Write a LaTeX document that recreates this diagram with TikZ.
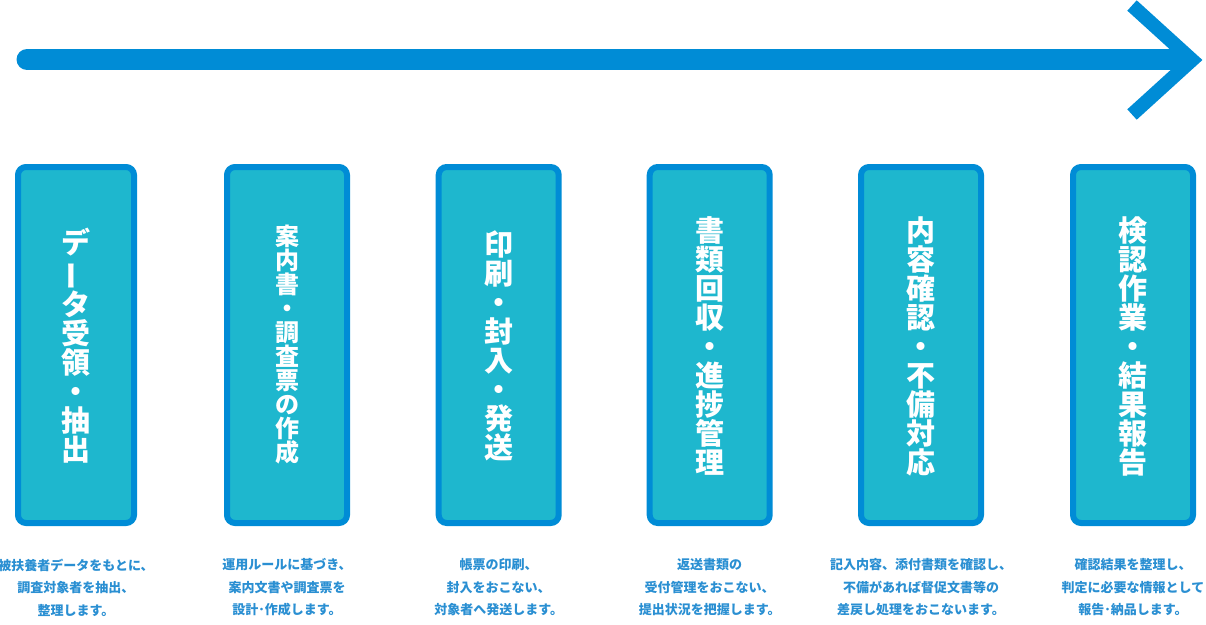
\documentclass[tikz,border=0pt]{standalone}
\usepackage{fontspec}
\usepackage{graphicx}
\newfontfamily\jp{Noto Sans CJK JP}
\definecolor{arrowblue}{HTML}{008CD6}
\definecolor{boxfill}{HTML}{1EB7CE}
\definecolor{textblue}{HTML}{2A8FD2}
\newcommand\vchoon{\rotatebox[origin=c]{90}{ー}}
\tikzset{
  stepbox/.style={draw=arrowblue, fill=boxfill, line width=6pt, rounded corners=8pt,
    minimum width=120pt, minimum height=356pt, inner sep=0pt},
  title/.style={text=white, align=center, inner sep=0pt,
    font=\jp\bfseries\fontsize{29}{29}\selectfont},
  titlesmall/.style={title, font=\jp\bfseries\fontsize{24}{24}\selectfont},
  desc/.style={text=textblue, align=center, inner sep=0pt,
    font=\jp\bfseries\fontsize{13}{22.5}\selectfont},
  bigarrow/.style={draw=arrowblue, line width=21pt},
  chevron/.style={draw=arrowblue, line width=14pt, miter limit=10}
}
\begin{document}
\begin{tikzpicture}[x=1pt,y=-1pt]
\useasboundingbox (0,0) rectangle (1206,624);
% arrow
\coordinate (as) at (27,59.5);
\coordinate (ae) at (1185,59.5);
\coordinate (cu) at (1132,5.5);
\coordinate (ct) at (1192,60);
\coordinate (cl) at (1132,114.5);
\draw[bigarrow, line cap=round] (as) -- (ae);
\draw[chevron, line cap=butt, line join=miter] (cu) -- (ct) -- (cl);
% boxes
\node[stepbox, minimum width=116pt] (b1) at (76,345) {};
\node[stepbox] (b2) at (287,345) {};
\node[stepbox] (b3) at (498.7,345) {};
\node[stepbox] (b4) at (709.7,345) {};
\node[stepbox] (b5) at (921,345) {};
\node[stepbox] (b6) at (1133,345) {};
% titles
\node[title] (t1) at ([yshift=-1pt]b1.center) {デ\\\vchoon\\タ\\受\\領\\・\\抽\\出};
\node[titlesmall] (t2) at ([yshift=0pt]b2.center) {案\\内\\書\\・\\調\\査\\票\\の\\作\\成};
\node[title] (t3) at ([yshift=-1pt]b3.center) {印\\刷\\・\\封\\入\\・\\発\\送};
\node[title] (t4) at ([yshift=-1pt]b4.center) {書\\類\\回\\収\\・\\進\\捗\\管\\理};
\node[title] (t5) at ([yshift=-1.5pt]b5.center) {内\\容\\確\\認\\・\\不\\備\\対\\応};
\node[title] (t6) at ([yshift=-1.5pt]b6.center) {検\\認\\作\\業\\・\\結\\果\\報\\告};
% descriptions
\node[desc] (d1) at (76,587.5) {被扶養者データをもとに、\\調査対象者を抽出、\\整理します。};
\node[desc] (d2) at (287,587.5) {運用ルールに基づき、\\案内文書や調査票を\\設計･作成します。};
\node[desc] (d3) at (498.7,587.5) {帳票の印刷、\\封入をおこない、\\対象者へ発送します。};
\node[desc] (d4) at (709.7,587.5) {返送書類の\\受付管理をおこない、\\提出状況を把握します。};
\node[desc] (d5) at (921,587.5) {記入内容、添付書類を確認し、\\不備があれば督促文書等の\\差戻し処理をおこないます。};
\node[desc] (d6) at (1133,587.5) {確認結果を整理し、\\判定に必要な情報として\\報告･納品します。};
\end{tikzpicture}
\end{document}
